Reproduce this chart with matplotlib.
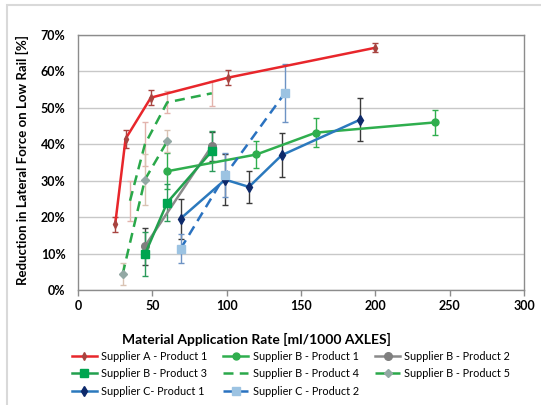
import matplotlib

matplotlib.use("Agg")
import matplotlib.pyplot as plt
from matplotlib.lines import Line2D
from matplotlib.patches import Rectangle

# --- data (x: ml/1000 axles, y: % reduction) ---
a1_x = [25, 32, 49, 101, 200]
a1_y = [18, 41.5, 52.8, 58.3, 66.5]
a1_err = [2, 2.5, 2, 2, 1.2]

b1_x = [60, 120, 160, 240]
b1_y = [32.6, 37.2, 43.2, 46]
b1_err = [5, 3.8, 4, 3.5]

b2_x = [45, 90]
b2_y = [12, 39.5]
b2_err = [5, 4]

b3_x = [45, 60, 90]
b3_y = [9.8, 24, 38.1]
b3_err = [6, 5, 5.5]

b4_x = [35, 45, 60, 90]
b4_y = [24.5, 40, 51.5, 54]
b4_err = [5.5, 6, 3, 3.5]

b5_x = [30, 45, 60]
b5_y = [4.3, 30.3, 40.8]
b5_err = [3, 7, 3]

c1_x = [69, 99, 115, 137, 190]
c1_y = [19.6, 30.3, 28.3, 37, 46.8]
c1_err = [5.5, 7, 4.5, 6, 6]

c2_x = [69, 99, 139]
c2_y = [11.3, 31.5, 54]
c2_err = [4, 6, 8]

y_ticks = [0, 10, 20, 30, 40, 50, 60, 70]
x_ticks = [0, 50, 100, 150, 200, 250, 300]

plt.rcParams["font.family"] = ["Lato", "DejaVu Sans"]

fig = plt.figure(figsize=(5.41, 4.05), dpi=100)
ax = fig.add_axes([78 / 541, 1 - 290 / 405, 446 / 541, 255 / 405])

dash = (0, (4, 2.5))
series = [
    # x, y, err, label, line color, line style, marker, marker size, marker color, error color
    (a1_x, a1_y, a1_err, "Supplier A - Product 1", "#e8262b", "-", "d", 4, "#a84440", "#a84440"),
    (b1_x, b1_y, b1_err, "Supplier B - Product 1", "#2fae4e", "-", "o", 5, "#2fae4e", "#2fae4e"),
    (b2_x, b2_y, b2_err, "Supplier B - Product 2", "#8a8a8a", "-", "o", 5.5, "#7f7f7f", "#404040"),
    (b3_x, b3_y, b3_err, "Supplier B - Product 3", "#22a04e", "-", "s", 6, "#00a550", "#2a9a5a"),
    (b4_x, b4_y, b4_err, "Supplier B - Product 4", "#2aa84a", dash, "", 0, "#2aa84a", "#e3b3ad"),
    (b5_x, b5_y, b5_err, "Supplier B - Product 5", "#2aa84a", dash, "D", 4, "#93a8a4", "#d9c3b3"),
    (c1_x, c1_y, c1_err, "Supplier C- Product 1", "#2b79bd", "-", "d", 5, "#0e2a6b", "#3a3a3a"),
    (c2_x, c2_y, c2_err, "Supplier C - Product 2", "#2a72c0", dash, "s", 5.5, "#9cc3e2", "#6d93c4"),
]

handles = []
for xs, ys, errs, label, color, style, marker, msize, mcolor, ecolor in series:
    ax.errorbar(
        xs, ys, yerr=errs, color=color, linestyle=style, linewidth=1.8,
        marker=marker or None, markersize=msize, markerfacecolor=mcolor, markeredgecolor=mcolor,
        ecolor=ecolor, elinewidth=1, capsize=2, capthick=1, zorder=3,
    )
    handles.append(Line2D([], [], color=color, linestyle=style, linewidth=1.8, marker=marker or None,
                          markersize=msize, markerfacecolor=mcolor, markeredgecolor=mcolor, label=label))

ax.set_xlim(0, 300)
ax.set_ylim(0, 70)
ax.set_xticks(x_ticks)
ax.set_yticks(y_ticks)
ax.set_yticklabels([f"{v}%" for v in y_ticks])
for lbl in ax.get_xticklabels() + ax.get_yticklabels():
    lbl.set_fontweight("bold")
    lbl.set_fontsize(9)
ax.tick_params(axis="both", colors="#8c8c8c", labelcolor="black", length=4, width=1)
ax.tick_params(axis="y", length=0, pad=9)
ax.grid(axis="y", color="#c8c8c8", linewidth=1)
ax.set_axisbelow(True)
for spine in ax.spines.values():
    spine.set_color("#8c8c8c")
    spine.set_linewidth(1)

ax.set_xlabel("Material Application Rate [ml/1000 AXLES]", fontsize=10, fontweight="bold")
ax.xaxis.set_label_coords(0.40, -0.17)
ax.set_ylabel("Reduction in Lateral Force on Low Rail [%]", fontsize=9.5, fontweight="bold")
ax.yaxis.set_label_coords(-0.11, 0.51)

# matplotlib fills legend columns first; reorder so rows read like the reference
order = [0, 3, 6, 1, 4, 7, 2, 5]
fig.legend(
    [handles[i] for i in order], [handles[i].get_label() for i in order],
    loc="upper left", bbox_to_anchor=(62 / 541, 1 - 341 / 405), ncol=3, frameon=False,
    fontsize=7.8, handlelength=2.3, handletextpad=0.4, columnspacing=1.5, labelspacing=0.6,
)

fig.patches.append(Rectangle((7 / 541, -0.1), 1.2, 1.1 - 5 / 405, transform=fig.transFigure,
                             fill=False, edgecolor="#d9d9d9", linewidth=1.5))

fig.savefig("out.png", dpi=100)
